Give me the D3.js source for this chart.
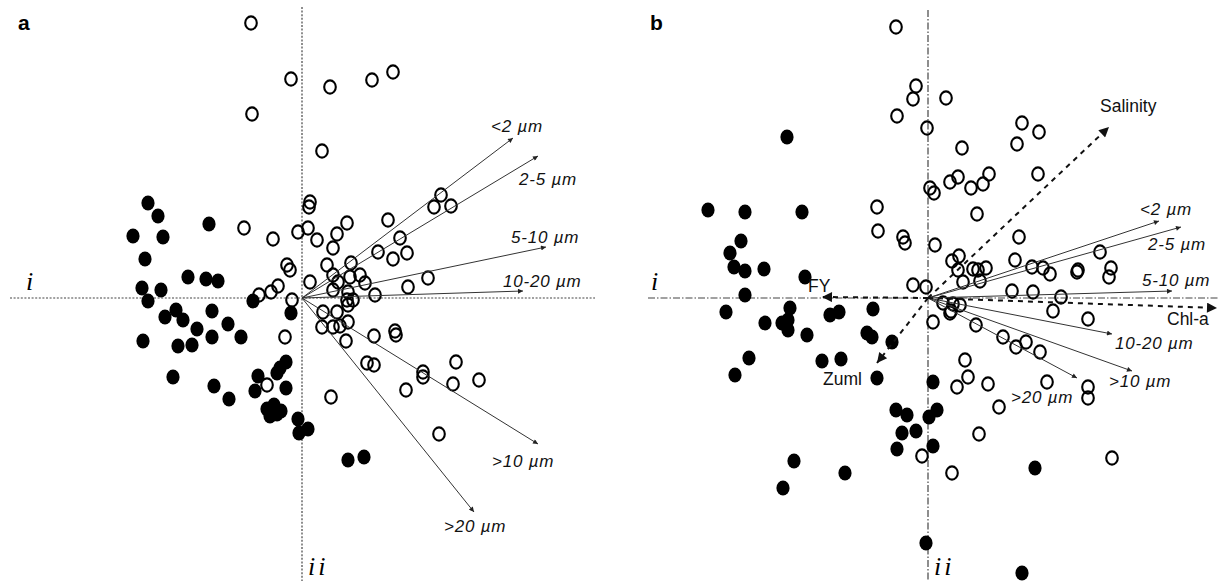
<!DOCTYPE html>
<html><head><meta charset="utf-8">
<script src="https://cdn.jsdelivr.net/npm/d3@7"></script>
<style>body{margin:0;background:#fff}svg{display:block}</style>
</head><body>
<svg id="c" width="1219" height="581"></svg>
<script>
// ---------- DATA (ordination scores, axis units) ----------
const panelAOpen = [
 [-0.51,2.75],[-0.11,2.19],[-0.50,1.84],[0.28,2.11],[0.70,2.18],[0.91,2.26],[0.20,1.47],[0.08,0.96],[0.07,0.91],
 [-0.58,0.70],[-0.29,0.59],[-0.04,0.66],[0.06,0.70],[0.15,0.58],[0.35,0.64],[0.45,0.75],[0.86,0.78],[1.39,1.03],
 [1.32,0.91],[1.49,0.92],[0.98,0.60],[0.31,0.50],[0.76,0.46],[0.91,0.39],[1.05,0.45],[0.25,0.33],[0.49,0.35],
 [0.31,0.23],[0.36,0.16],[0.48,0.21],[0.58,0.23],[0.63,0.15],[0.08,0.16],[0.31,0.08],[0.46,0.06],[0.45,-0.02],
 [0.51,-0.02],[0.46,-0.07],[0.73,0.03],[1.06,0.11],[1.26,0.20],[0.21,-0.14],[0.35,-0.14],[0.20,-0.29],[0.31,-0.29],
 [0.38,-0.28],[0.46,-0.24],[0.44,-0.43],[0.72,-0.38],[0.93,-0.33],[0.94,-0.37],[0.65,-0.65],[0.72,-0.67],[1.21,-0.74],
 [1.21,-0.79],[1.54,-0.64],[1.51,-0.86],[1.77,-0.82],[1.04,-0.92],[0.29,-0.99],[1.37,-1.36],[-0.10,-0.02],[-0.15,0.33],
 [-0.12,0.28],[-0.17,-0.39],[-0.35,-0.87],[-0.24,0.12],[-0.31,0.06],[-0.43,0.03]
];
const panelAFilled = [
 [-1.54,0.95],[-1.44,0.82],[-1.69,0.62],[-1.39,0.61],[-0.93,0.74],[-1.57,0.39],[-1.14,0.21],[-0.96,0.19],[-0.84,0.17],
 [-1.60,0.10],[-1.41,0.08],[-1.54,-0.03],[-1.26,-0.12],[-1.37,-0.19],[-1.19,-0.22],[-0.90,-0.13],[-1.05,-0.31],[-0.74,-0.26],
 [-0.90,-0.39],[-0.61,-0.39],[-1.59,-0.43],[-1.24,-0.48],[-1.10,-0.47],[-1.29,-0.79],[-0.88,-0.88],[-0.73,-1.01],[-0.49,-0.03],
 [-0.11,-0.15],[-0.16,-0.64],[-0.22,-0.70],[-0.25,-0.75],[-0.44,-0.78],[-0.47,-0.93],[-0.16,-0.90],[-0.35,-1.11],[-0.28,-1.07],
 [-0.21,-1.13],[-0.32,-1.18],[-0.25,-1.16],[-0.04,-1.21],[0.06,-1.31],[-0.03,-1.35],[0.46,-1.62],[0.62,-1.59]
];
const panelAVectorNames = ["<2 µm","2-5 µm","5-10 µm","10-20 µm",">10 µm",">20 µm"];
const panelAVectorX = [2.11, 2.36, 2.44, 2.21, 2.36, 1.72];
const panelAVectorY = [1.60, 1.42, 0.51, 0.07, -1.46, -2.14];

const panelBOpen = [
 [-0.32,2.71],[-0.12,2.12],[-0.15,1.99],[0.18,2.00],[-0.31,1.82],[-0.01,1.70],[0.34,1.50],[0.94,1.75],[1.11,1.66],
 [0.89,1.54],[0.02,1.10],[0.06,1.05],[0.22,1.16],[0.30,1.21],[0.43,1.10],[0.55,1.14],[0.61,1.24],[1.10,1.24],
 [0.49,0.84],[-0.51,0.91],[-0.50,0.67],[-0.25,0.61],[-0.23,0.55],[0.07,0.53],[0.91,0.61],[0.24,0.37],[0.31,0.42],
 [0.87,0.38],[0.30,0.28],[0.45,0.29],[0.50,0.28],[0.58,0.30],[0.35,0.16],[0.52,0.17],[1.04,0.31],[1.15,0.30],
 [1.22,0.24],[1.49,0.26],[1.50,0.28],[1.72,0.46],[1.83,0.30],[1.81,0.21],[-0.15,0.13],[-0.02,0.11],[0.84,0.07],
 [1.05,0.06],[1.33,0.01],[0.15,-0.05],[0.25,-0.06],[0.32,-0.07],[0.22,-0.15],[0.23,-0.13],[1.25,-0.13],[1.60,-0.21],
 [0.05,-0.24],[0.48,-0.27],[0.75,-0.39],[0.88,-0.49],[0.98,-0.44],[1.12,-0.54],[0.37,-0.62],[0.40,-0.79],[0.29,-0.89],
 [0.60,-0.86],[1.19,-0.84],[1.60,-0.89],[1.60,-1.00],[0.71,-1.09],[0.51,-1.36],[-0.06,-1.58],[0.24,-1.75],[1.84,-1.60]
];
const panelBFilled = [
 [-1.41,1.61],[-2.20,0.88],[-1.83,0.86],[-1.26,0.86],[-1.87,0.57],[-1.98,0.45],[-1.94,0.31],[-1.83,0.27],[-1.64,0.29],
 [-1.23,0.21],[-1.83,0.03],[-2.02,-0.14],[-1.63,-0.25],[-1.38,-0.10],[-1.46,-0.25],[-1.40,-0.22],[-1.40,-0.32],[-1.21,-0.37],
 [-0.98,-0.17],[-0.89,-0.14],[-0.55,-0.11],[-0.61,-0.35],[-0.56,-0.39],[-0.36,-0.44],[-1.79,-0.60],[-1.93,-0.77],[-1.06,-0.63],
 [-0.87,-0.61],[-0.51,-0.80],[0.05,-0.84],[-0.32,-1.12],[-0.21,-1.17],[0.09,-1.12],[0.01,-1.19],[-0.26,-1.35],[-0.12,-1.33],
 [-0.31,-1.51],[0.05,-1.48],[-1.34,-1.63],[-0.83,-1.75],[-1.45,-1.90],[1.07,-1.70],[-0.02,-2.45],[0.94,-2.75]
];
const panelBVectorNames = ["<2 µm","2-5 µm","5-10 µm","10-20 µm",">10 µm",">20 µm"];
const panelBVectorX = [2.31, 2.53, 2.44, 1.84, 2.04, 1.49];
const panelBVectorY = [0.77, 0.71, 0.07, -0.36, -0.73, -0.80];
const panelBEnvNames = ["Salinity","Chl-a","FY","Zuml"];
const panelBEnvX = [1.81, 2.89, -1.06, -0.51];
const panelBEnvY = [1.71, -0.10, 0.01, -0.65];

// ---------- LAYOUT (pixel offsets of labels from arrow tips) ----------
const labelOffA = [[-22,-6],[-19,29],[-35,-4],[-20,-4],[-46,23],[-30,20]];
const labelOffB = [[-19,-6],[-33,23],[-30,-5],[3,15],[-23,16],[-66,25]];
const envOffB = [[-9,-15],[-50,17],[-14,-5],[-54,22]];

const svg = d3.select("#c");
const defs = svg.append("defs");
defs.append("marker").attr("id","hs").attr("viewBox","0 0 10 10").attr("refX",10).attr("refY",5)
  .attr("markerWidth",7).attr("markerHeight",5).attr("markerUnits","userSpaceOnUse").attr("orient","auto")
  .append("path").attr("d","M0,0L10,5L0,10z").attr("fill","#222");
defs.append("marker").attr("id","hd").attr("viewBox","0 0 10 10").attr("refX",10).attr("refY",5)
  .attr("markerWidth",13).attr("markerHeight",10).attr("markerUnits","userSpaceOnUse").attr("orient","auto")
  .append("path").attr("d","M0,0L10,5L0,10z").attr("fill","#111");

function panel(opts){
  const g = svg.append("g");
  const x = d3.scaleLinear().domain(opts.xd).range(opts.xr);
  const y = d3.scaleLinear().domain(opts.yd).range(opts.yr);
  g.append("line").attr("x1",x(opts.hx[0])).attr("x2",x(opts.hx[1])).attr("y1",y(0)).attr("y2",y(0))
    .attr("stroke","#444").attr("stroke-width",1.2).attr("stroke-dasharray",opts.dash);
  g.append("line").attr("x1",x(0)).attr("x2",x(0)).attr("y1",y(opts.vy[0])).attr("y2",y(opts.vy[1]))
    .attr("stroke","#444").attr("stroke-width",1.2).attr("stroke-dasharray",opts.dash);
  g.append("text").attr("x",x(opts.hx[0])+opts.iOff[0]).attr("y",y(0)+opts.iOff[1])
    .attr("font-family","Liberation Serif").attr("font-style","italic").attr("font-size",26).text("i");
  g.append("text").attr("x",x(0)+opts.iiOff[0]).attr("y",y(opts.vy[1])+opts.iiOff[1])
    .attr("font-family","Liberation Serif").attr("font-style","italic").attr("font-size",26)
    .attr("letter-spacing",3).text("ii");
  g.append("text").attr("x",opts.letterPos[0]).attr("y",opts.letterPos[1])
    .attr("font-family","Liberation Sans").attr("font-weight","bold").attr("font-size",21).text(opts.letter);
  return {g,x,y};
}

function points(p, open, filled){
  p.g.append("g").selectAll("ellipse").data(filled).join("ellipse")
    .attr("cx",d=>p.x(d[0])).attr("cy",d=>p.y(d[1])).attr("rx",6.6).attr("ry",7.4).attr("fill","#000");
  p.g.append("g").selectAll("ellipse").data(open).join("ellipse")
    .attr("cx",d=>p.x(d[0])).attr("cy",d=>p.y(d[1])).attr("rx",5.8).attr("ry",6.6)
    .attr("fill","none").attr("stroke","#000").attr("stroke-width",2.1);
}

function vectors(p, names, vx, vy, offs){
  const data = names.map((n,i)=>({n, x:vx[i], y:vy[i], o:offs[i]}));
  p.g.append("g").selectAll("line").data(data).join("line")
    .attr("x1",p.x(0)).attr("y1",p.y(0)).attr("x2",d=>p.x(d.x)).attr("y2",d=>p.y(d.y))
    .attr("stroke","#333").attr("stroke-width",1).attr("marker-end","url(#hs)");
  p.g.append("g").selectAll("text").data(data).join("text")
    .attr("x",d=>p.x(d.x)+d.o[0]).attr("y",d=>p.y(d.y)+d.o[1])
    .attr("font-family","Liberation Sans").attr("font-style","italic").attr("font-size",17)
    .attr("letter-spacing",0.8).attr("fill","#111").text(d=>d.n);
}

// Panel a
const pa = panel({xd:[-2.8,2.93], xr:[22,595], yd:[2.93,-2.83], yr:[5,581],
  hx:[-2.92,2.93], vy:[2.91,-2.83], dash:"2,1.6", iOff:[16,-8], iiOff:[6,-6], letter:"a", letterPos:[18,30]});
points(pa, panelAOpen, panelAFilled);
vectors(pa, panelAVectorNames, panelAVectorX, panelAVectorY, labelOffA);

// Panel b
const pb = panel({xd:[-2.8,2.91], xr:[648,1219], yd:[2.93,-2.83], yr:[5,581],
  hx:[-2.8,2.91], vy:[2.88,-2.83], dash:"7,2,1.5,2", iOff:[3,-8], iiOff:[6,-6], letter:"b", letterPos:[650,30]});
points(pb, panelBOpen, panelBFilled);
vectors(pb, panelBVectorNames, panelBVectorX, panelBVectorY, labelOffB);
const env = panelBEnvNames.map((n,i)=>({n, x:panelBEnvX[i], y:panelBEnvY[i], o:envOffB[i]}));
pb.g.append("g").selectAll("line").data(env).join("line")
  .attr("x1",pb.x(0)).attr("y1",pb.y(0)).attr("x2",d=>pb.x(d.x)).attr("y2",d=>pb.y(d.y))
  .attr("stroke","#111").attr("stroke-width",2).attr("stroke-dasharray","5,5").attr("marker-end","url(#hd)");
pb.g.append("g").selectAll("text").data(env).join("text")
  .attr("x",d=>pb.x(d.x)+d.o[0]).attr("y",d=>pb.y(d.y)+d.o[1])
  .attr("font-family","Liberation Sans").attr("font-size",17.5).attr("fill","#111").text(d=>d.n);
</script>
</body></html>
